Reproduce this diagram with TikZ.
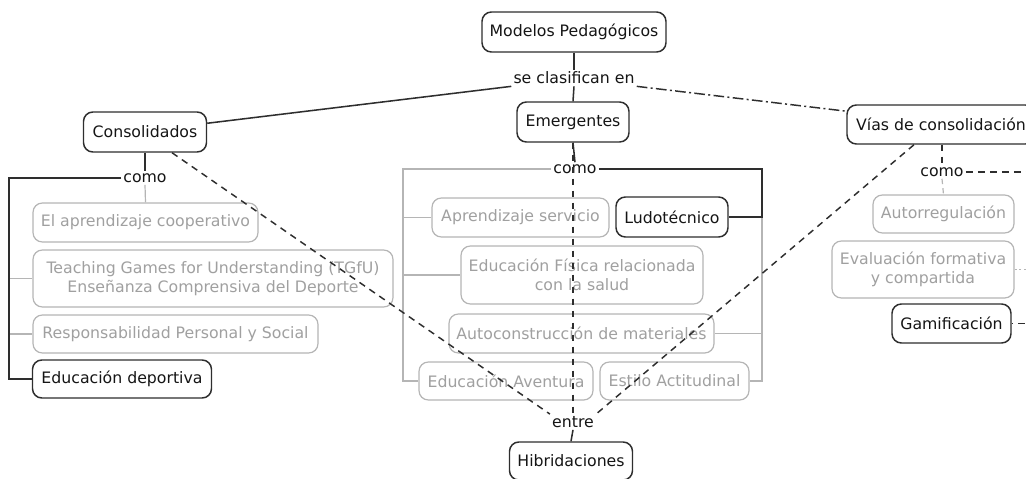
\documentclass[tikz,border=0pt]{standalone}
\usepackage{fontspec}
\setmainfont{DejaVu Sans}
\usetikzlibrary{calc}
\definecolor{ink}{HTML}{2E2E2E}
\definecolor{txt}{HTML}{151515}
\definecolor{pale}{HTML}{B5B5B5}
\definecolor{paletxt}{HTML}{A0A0A0}
\begin{document}
\begin{tikzpicture}[x=0.75pt,y=-0.75pt,
  font=\fontsize{11.8}{14.4}\selectfont,
  sz/.style 2 args={minimum width=#1*0.75pt, minimum height=#2*0.75pt},
  mainbox/.style={draw=ink, line width=1.1pt, rounded corners=7pt, fill=white, text=txt, inner sep=0pt, align=center},
  subbox/.style={draw=pale, line width=0.9pt, rounded corners=7pt, fill=white, text=paletxt, inner sep=0pt, align=center},
  linklbl/.style={text=txt, inner sep=1.5pt, fill=white},
  link/.style={draw=ink, line width=1.15pt},
  palelink/.style={draw=pale, line width=0.9pt},
  dashlink/.style={draw=ink, line width=1.1pt, dash pattern=on 5pt off 4pt},
  paledash/.style={draw=pale, line width=0.9pt, dash pattern=on 4pt off 3pt},
  dotlink/.style={draw=pale, line width=0.9pt, dash pattern=on 1.5pt off 2pt},
  dashdotlink/.style={draw=ink, line width=1.1pt, dash pattern=on 8pt off 2.5pt on 1.5pt off 2.5pt}]
\useasboundingbox (0,0) rectangle (1026,479);

% root and classification
\node[mainbox, sz={184}{40}] (root) at (574,32) {Modelos Pedagógicos};
\node[linklbl] (cls) at (574,78) {se clasifican en};
\node[mainbox, sz={123}{40}] (cons) at (145,132) {Consolidados};
\node[mainbox, sz={112}{40}] (emer) at (573,122) {Emergentes};
\node[mainbox, sz={188}{39}] (vias) at (941,124.5) {Vías de consolidación};

% consolidated models
\node[linklbl] (como1) at (145,178) {como};
\node[subbox, sz={225}{39}] (coop) at (145.5,222.5) {El aprendizaje cooperativo};
\node[subbox, sz={360}{57}] (tgfu) at (213,278.5) {Teaching Games for Understanding (TGfU)\\Enseñanza Comprensiva del Deporte};
\node[subbox, sz={285}{38}] (resp) at (175.5,334) {Responsabilidad Personal y Social};
\node[mainbox, sz={179}{38}] (edep) at (122,379) {Educación deportiva};

% emerging models
\node[linklbl] (como2) at (575,169) {como};
\node[subbox, sz={177}{39}] (serv) at (520.5,217.5) {Aprendizaje servicio};
\node[mainbox, sz={112}{40}] (ludo) at (672,217) {Ludotécnico};
\node[subbox, sz={242}{58}] (efs) at (582,275) {Educación Física relacionada\\con la salud};
\node[subbox, sz={265}{39}] (auto) at (581.5,333.5) {Autoconstrucción de materiales};
\node[subbox, sz={174}{38}] (avent) at (506,381) {Educación Aventura};
\node[subbox, sz={149}{38}] (estilo) at (674.5,381) {Estilo Actitudinal};

% consolidation paths
\node[linklbl] (como3) at (942,172) {como};
\node[subbox, sz={141}{38}] (autor) at (943.5,214) {Autorregulación};
\node[subbox, sz={182}{57}] (evalf) at (923,269.5) {Evaluación formativa\\y compartida};
\node[mainbox, sz={119}{39}] (gam) at (951.5,323.5) {Gamificación};

% hybridisations
\node[linklbl] (entre) at (573,422) {entre};
\node[mainbox, sz={123}{38}] (hib) at (571,461) {Hibridaciones};

% helper points for the elbow connectors
\coordinate (cL) at (9,178);
\coordinate (eL) at (403,169);
\coordinate (eR) at (762,169);
\coordinate (vR) at (1040,172);
\coordinate (evR) at (1040,269.5);
\coordinate (gR) at (1040,323.5);

% root connectors
\draw[link] (root.south) -- (cls.north);
\draw[link] (cls.south) -- (emer.north);
\draw[link] (cls.south west) -- (cons.8);
\draw[dashdotlink] (cls.south east) -- (vias.172);

% consolidated branch
\draw[link] (cons.south) -- (como1.north);
\draw[palelink] (como1.south) -- (coop.north);
\draw[palelink] (cL |- tgfu.west) -- (tgfu.west);
\draw[palelink] (cL |- resp.west) -- (resp.west);
\draw[link] (como1.west) -- (cL) |- (edep.west);

% emerging branch
\draw[link] (emer.south) -- (como2.north);
\draw[palelink] (como2.west) -- (eL) |- (avent.west);
\draw[palelink] (eL |- serv.west) -- (serv.west);
\draw[palelink] (eL |- efs.west) -- (efs.west);
\draw[palelink] (eR |- ludo.east) |- (estilo.east);
\draw[palelink] (eR |- auto.east) -- (auto.east);
\draw[link] (como2.east) -- (eR) |- (ludo.east);

% consolidation-path branch
\draw[dashlink] (vias.south -| como3) -- (como3.north);
\draw[paledash] (como3.south) -- (autor.north);
\draw[dashlink] (como3.east) -- (vR);
\draw[dotlink] (evalf.east) -- (evR);
\draw[dashlink, dash phase=4pt] (gam.east) -- (gR);

% hybridisation links
\draw[link] (entre.south) -- (hib.north);
\draw[dashlink] ($(cons.south)+(27,0)$) -- (entre.north west);
\draw[dashlink] (emer.south) -- (entre.north);
\draw[dashlink] ($(vias.south)+(-27,0)$) -- (entre.north east);
\end{tikzpicture}
\end{document}
